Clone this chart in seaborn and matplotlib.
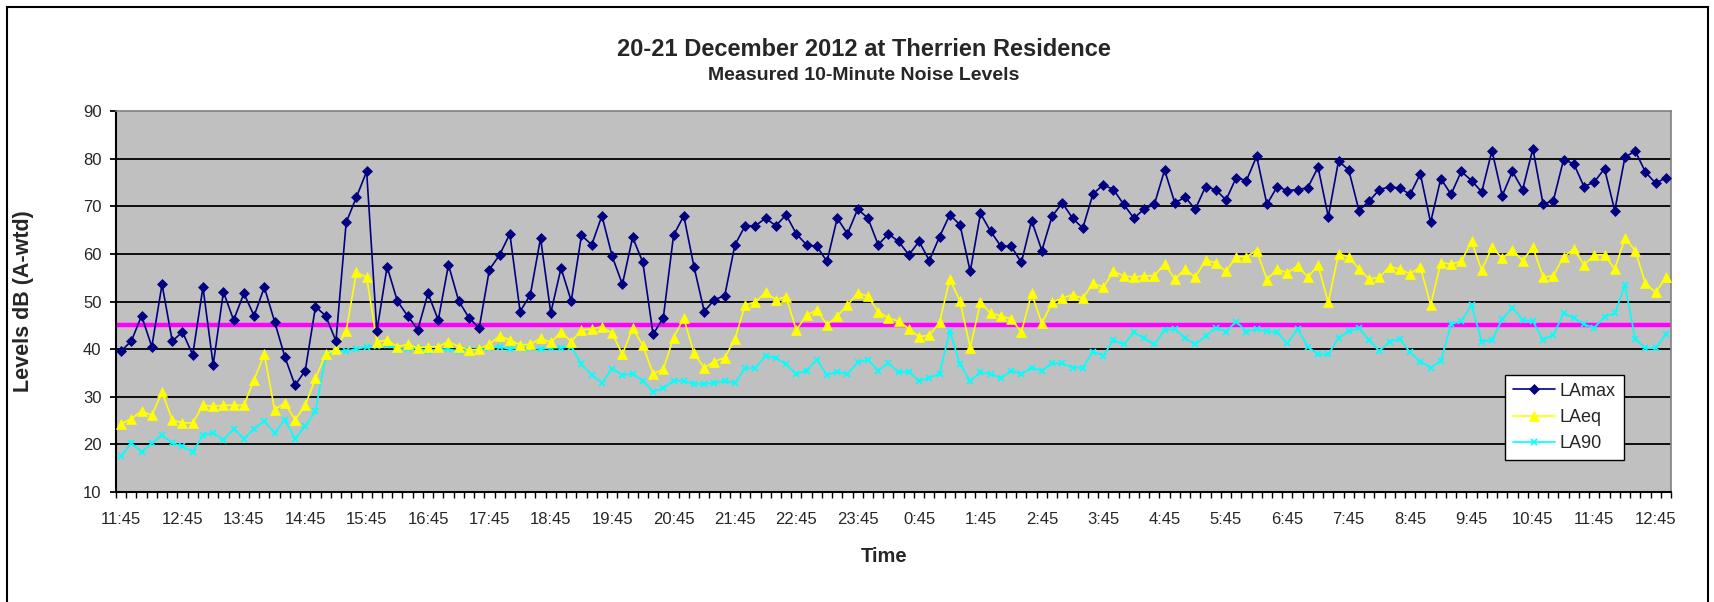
import numpy as np
import pandas as pd
import seaborn as sns
import matplotlib
matplotlib.use("Agg")
import matplotlib.pyplot as plt
from matplotlib.patches import Rectangle
from matplotlib.ticker import FixedLocator, MultipleLocator

# ---------------- data ----------------
title_line1 = "20-21 December 2012 at Therrien Residence"
title_line2 = "Measured 10-Minute Noise Levels"
x_label = "Time"
y_label = "Levels dB (A-wtd)"

tick_labels = ["11:45", "12:45", "13:45", "14:45", "15:45", "16:45", "17:45",
               "18:45", "19:45", "20:45", "21:45", "22:45", "23:45", "0:45",
               "1:45", "2:45", "3:45", "4:45", "5:45", "6:45", "7:45", "8:45",
               "9:45", "10:45", "11:45", "12:45"]

lamax = [39.6, 41.7, 47.0, 40.5, 53.6, 41.7, 43.6, 38.8, 53.0, 36.7, 52.0, 46.1, 51.7, 47.0, 53.0, 45.8, 38.4, 32.4, 35.5,
         48.9, 47.0, 41.7, 66.6, 71.9, 77.3, 43.8, 57.3, 50.1, 47.0, 44.1, 51.7, 46.1, 57.7, 50.1, 46.6, 44.4, 56.7, 59.8, 64.2,
         47.9, 51.4, 63.3, 47.6, 57.0, 50.1, 63.9, 61.9, 68.0, 59.5, 53.6, 63.5, 58.2, 43.1, 46.6, 63.9, 68.0, 57.3, 47.9,
         50.4, 51.2, 61.9, 65.9, 65.9, 67.5, 65.9, 68.2, 64.2, 61.9, 61.6, 58.4, 67.5, 64.2, 69.4, 67.5, 61.9, 64.2, 62.6, 59.8,
         62.6, 58.6, 63.6, 68.2, 66.1, 56.3, 68.5, 64.7, 61.6, 61.6, 58.2, 67.0, 60.7, 67.9, 70.7, 67.5, 65.4, 72.6, 74.5,
         73.5, 70.4, 67.5, 69.4, 70.4, 77.6, 70.7, 71.9, 69.4, 74.1, 73.5, 71.3, 76.0, 75.4, 80.5, 70.4, 74.1, 73.3, 73.5, 73.9,
         78.2, 67.8, 79.5, 77.6, 69.1, 71.1, 73.5, 74.1, 73.8, 72.5, 76.8, 66.6, 75.8, 72.5, 77.3, 75.4, 73.0, 81.7, 72.2, 77.3,
         73.5, 82.1, 70.4, 71.2, 79.8, 78.9, 74.1, 75.1, 77.9, 69.1, 80.3, 81.6, 77.2, 74.8, 76.0]

laeq = [24.3, 25.4, 27.0, 26.1, 31.0, 25.1, 24.5, 24.5, 28.2, 28.0, 28.2, 28.2, 28.2, 33.6, 38.9, 27.3, 28.7, 25.2, 28.2,
        33.9, 38.9, 40.0, 43.8, 56.1, 55.1, 41.6, 41.9, 40.5, 41.0, 40.3, 40.5, 40.5, 41.6, 40.5, 39.8, 40.0, 41.0, 42.8, 41.9,
        40.9, 41.0, 42.3, 41.4, 43.6, 41.6, 44.0, 44.3, 44.7, 43.3, 38.9, 44.4, 40.8, 34.8, 35.8, 42.4, 46.5, 39.1, 36.1,
        37.4, 38.2, 42.1, 49.3, 49.9, 51.9, 50.4, 51.0, 44.0, 47.1, 48.2, 45.1, 47.0, 49.2, 51.8, 51.1, 47.9, 46.5, 45.9, 44.3,
        42.6, 42.9, 45.6, 54.7, 50.1, 40.3, 49.8, 47.5, 47.0, 46.3, 43.6, 51.7, 45.4, 49.8, 50.7, 51.4, 50.7, 53.8, 53.0,
        56.3, 55.4, 55.1, 55.4, 55.4, 57.9, 54.7, 56.8, 55.1, 58.7, 58.1, 56.3, 59.4, 59.4, 60.7, 54.6, 56.8, 56.0, 57.5, 55.1,
        57.6, 49.8, 60.0, 59.4, 56.8, 54.7, 55.1, 57.3, 56.8, 55.8, 57.3, 49.3, 58.1, 57.9, 58.4, 62.6, 56.6, 61.4, 59.1, 60.8,
        58.6, 61.4, 55.1, 55.4, 59.4, 61.0, 57.7, 59.8, 59.8, 56.8, 63.3, 60.7, 53.8, 51.9, 55.1]

la90 = [17.5, 20.3, 18.4, 20.3, 21.9, 20.3, 19.6, 18.4, 21.9, 22.4, 20.9, 23.3, 21.2, 23.3, 24.9, 22.4, 25.2, 21.2, 23.8,
        27.0, 38.6, 39.6, 39.6, 40.0, 40.5, 40.7, 40.8, 40.0, 40.0, 40.2, 39.6, 40.0, 40.0, 39.6, 39.8, 39.8, 40.2, 40.5, 40.0,
        40.3, 40.3, 40.0, 40.3, 40.3, 40.5, 36.8, 34.6, 32.9, 35.9, 34.6, 34.8, 33.3, 31.1, 31.8, 33.4, 33.3, 32.7, 32.7,
        32.9, 33.3, 32.9, 36.0, 36.1, 38.6, 38.1, 36.8, 34.8, 35.5, 37.8, 34.6, 35.2, 34.8, 37.2, 37.8, 35.5, 37.1, 35.1, 35.3,
        33.3, 34.0, 34.8, 43.8, 36.8, 33.3, 35.1, 34.8, 33.9, 35.5, 34.8, 36.1, 35.5, 37.0, 37.0, 36.1, 36.1, 39.5, 38.6,
        41.9, 41.0, 43.5, 42.3, 41.0, 44.0, 44.2, 42.3, 41.0, 42.7, 44.5, 43.7, 45.8, 43.7, 44.2, 43.8, 43.5, 41.2, 44.2, 40.5,
        38.9, 38.9, 42.3, 43.8, 44.4, 41.9, 39.6, 41.6, 42.1, 39.3, 37.4, 36.1, 37.5, 45.2, 45.9, 49.2, 41.6, 41.9, 46.3, 48.7,
        46.1, 45.9, 41.9, 43.0, 47.5, 46.6, 45.2, 44.5, 46.8, 47.5, 53.5, 42.1, 40.2, 40.2, 43.1]

criterion_level = 45.0
series_names = ["LAmax", "LAeq", "LA90"]

# ---------------- style ----------------
sns.set_style("white")
plt.rcParams["font.family"] = ["Liberation Sans", "DejaVu Sans"]

W, H = 1715, 602
fig = plt.figure(figsize=(W / 100, H / 100), dpi=100)
fig.patch.set_facecolor("white")

L, R, T, B = 116, 1671, 111, 492
ax = fig.add_axes([L / W, 1 - B / H, (R - L) / W, (B - T) / H])
ax.set_facecolor("#C0C0C0")

n = len(lamax)
df = pd.DataFrame({"idx": np.arange(n), "LAmax": lamax, "LAeq": laeq, "LA90": la90})

ax.axhline(criterion_level, color="#FF00FF", lw=3.2, zorder=2)

sns.lineplot(data=df, x="idx", y="LAmax", ax=ax, color="#000080", lw=1.2,
             marker="D", markersize=5.5, markeredgecolor="#000080",
             markeredgewidth=0.5, label=series_names[0], zorder=5)
sns.lineplot(data=df, x="idx", y="LAeq", ax=ax, color="#FFFF00", lw=1.2,
             marker="^", markersize=7, markeredgecolor="#FFFF00",
             markeredgewidth=0.5, label=series_names[1], zorder=4)
sns.lineplot(data=df, x="idx", y="LA90", ax=ax, color="#00FFFF", lw=1.2,
             marker="x", markersize=5, markeredgecolor="#00FFFF",
             markeredgewidth=1.2, label=series_names[2], zorder=3)

ax.set_xlim(-0.5, n - 0.5)
ax.set_ylim(10, 90)
ax.yaxis.set_major_locator(MultipleLocator(10))
ax.grid(False)
for yv in range(20, 90, 10):
    ax.axhline(yv, color="black", lw=1.3, zorder=1)

label_pos = list(range(0, 6 * len(tick_labels), 6))
ax.xaxis.set_major_locator(FixedLocator(label_pos))
ax.set_xticklabels(tick_labels)
ax.xaxis.set_minor_locator(FixedLocator(np.arange(-0.5, n, 1.0)))
ax.tick_params(axis="x", which="major", length=0, pad=14.5, labelsize=12)
ax.tick_params(axis="x", which="minor", length=4.5, width=1.0, color="black",
               direction="out", bottom=True)
ax.tick_params(axis="y", which="major", length=4.5, width=1.3, color="black",
               direction="out", left=True, pad=6, labelsize=12)

for s in ["left", "bottom"]:
    ax.spines[s].set_color("black")
    ax.spines[s].set_linewidth(1.5)
for s in ["top", "right"]:
    ax.spines[s].set_color("#808080")
    ax.spines[s].set_linewidth(1.2)

ax.set_xlabel(x_label, fontsize=14.5, fontweight="bold")
ax.xaxis.set_label_coords((884 - L) / (R - L), -(556 - B) / (B - T))
ax.xaxis.label.set_va("center")
ax.set_ylabel(y_label, fontsize=15.5, fontweight="bold")
ax.yaxis.set_label_coords((24 - L) / (R - L), 0.5)
ax.yaxis.label.set_va("center")

leg = ax.legend(loc="center", bbox_to_anchor=(0.9315, 0.196), fontsize=13,
                frameon=True, fancybox=False, edgecolor="black",
                facecolor="white", framealpha=1, handlelength=2.3,
                borderpad=0.45, labelspacing=0.5, handletextpad=0.3,
                borderaxespad=0)
leg.get_frame().set_linewidth(1.0)
leg.set_zorder(10)

fig.text(864 / W, 1 - 50 / H, title_line1, ha="center", va="center",
         fontsize=17, fontweight="bold")
fig.text(864 / W, 1 - 76 / H, title_line2, ha="center", va="center",
         fontsize=14, fontweight="bold")

fig.patches.append(Rectangle((7 / W, -0.1), (1708.5 - 7) / W, 1.1 - 6.5 / H,
                             transform=fig.transFigure, fill=False,
                             edgecolor="black", lw=1.5))

fig.savefig("out.png", dpi=100, facecolor="white")
